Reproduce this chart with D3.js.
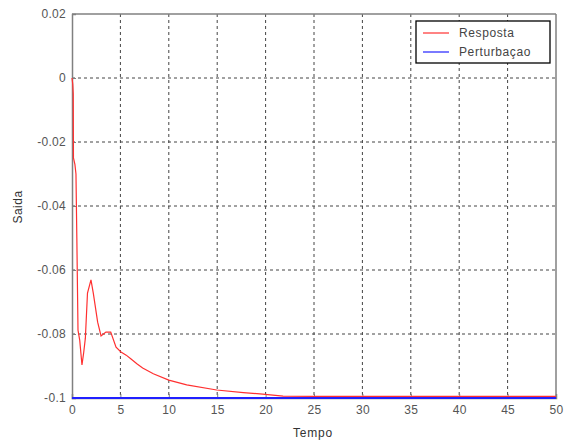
<!DOCTYPE html>
<html><head><meta charset="utf-8">
<script src="https://cdn.jsdelivr.net/npm/d3@7"></script>
<style>body{margin:0;background:#fff}svg{display:block}</style>
</head><body>
<svg id="c" width="564" height="443"></svg>
<script>
const xTicks = [0,5,10,15,20,25,30,35,40,45,50];
const yTicks = [0.02,0,-0.02,-0.04,-0.06,-0.08,-0.1];
const yTickLabels = ["0.02","0","-0.02","-0.04","-0.06","-0.08","-0.1"];
const respTime = [0,0.08,0.13,0.15,0.3,0.41,0.5,0.62,0.8,1.03,1.2,1.38,1.6,1.96,2.2,2.65,3.0,3.5,4.0,4.55,5.06,5.6,6.1,6.7,7.3,8.4,10,11.85,14.95,17.7,19.7,21.8,25,30,35,40,45,50];
const respValue = [0,-0.002,-0.005,-0.025,-0.027,-0.03,-0.05,-0.0788,-0.082,-0.0897,-0.086,-0.0813,-0.0672,-0.0631,-0.0672,-0.0763,-0.0806,-0.0794,-0.0794,-0.0841,-0.0856,-0.0866,-0.0878,-0.0893,-0.0906,-0.0924,-0.0944,-0.0959,-0.0975,-0.0983,-0.0988,-0.0994,-0.0995,-0.0995,-0.0995,-0.0995,-0.0995,-0.0995];
const pertTime = [0,50];
const pertValue = [-0.1,-0.1];
const legendLabels = ["Resposta","Perturbaçao"];
const colors = ["#ff3030","#2020ff"];

const svg = d3.select("#c");
const L=72,R=556,T=14,B=398;
const x = d3.scaleLinear().domain([0,50]).range([L,R]);
const y = d3.scaleLinear().domain([-0.1,0.02]).range([B,T]);
const font = "'Liberation Sans', Arial, sans-serif";

// grid
const g = svg.append("g");
g.selectAll(".vg").data(xTicks.slice(1,-1)).join("line")
  .attr("x1",d=>x(d)).attr("x2",d=>x(d)).attr("y1",T).attr("y2",B)
  .attr("stroke","#444").attr("stroke-width",1).attr("stroke-dasharray","3,3");
g.selectAll(".hg").data(yTicks.slice(1,-1)).join("line")
  .attr("x1",L).attr("x2",R).attr("y1",d=>y(d)).attr("y2",d=>y(d))
  .attr("stroke","#444").attr("stroke-width",1).attr("stroke-dasharray","3,3");

// axes
const xa = svg.append("g").attr("transform",`translate(0,${B})`)
  .call(d3.axisBottom(x).tickValues(xTicks).tickSize(-4).tickPadding(7).tickFormat(d3.format("d")));
const ya = svg.append("g").attr("transform",`translate(${L},0)`)
  .call(d3.axisLeft(y).tickValues(yTicks).tickSize(-4).tickPadding(6).tickFormat((d,i)=>yTickLabels[i]));
[xa,ya].forEach(a=>{
  a.selectAll("path").attr("stroke","#808080").attr("stroke-width",1.5);
  a.selectAll("line").attr("stroke","#808080");
  a.selectAll("text").attr("fill","#555").style("font-family",font).style("font-size","12px").style("letter-spacing","0.3px");
});
// top/right box
svg.append("line").attr("x1",L).attr("x2",R).attr("y1",T).attr("y2",T).attr("stroke","#808080").attr("stroke-width",1.5);
svg.append("line").attr("x1",R).attr("x2",R).attr("y1",T).attr("y2",B).attr("stroke","#808080").attr("stroke-width",1.5);

// data lines
const line = d3.line().x(d=>x(d[0])).y(d=>y(d[1]));
svg.append("path").datum(pertTime.map((t,i)=>[t,pertValue[i]]))
  .attr("d",line).attr("fill","none").attr("stroke",colors[1]).attr("stroke-width",2);
svg.append("path").datum(respTime.map((t,i)=>[t,respValue[i]]))
  .attr("d",line).attr("fill","none").attr("stroke",colors[0]).attr("stroke-width",1.2);

// labels
svg.append("text").attr("x",313).attr("y",437).attr("text-anchor","middle")
  .attr("fill","#333").style("font-family",font).style("font-size","12px").style("letter-spacing","0.8px").text("Tempo");
svg.append("text").attr("transform","translate(22,207) rotate(-90)").attr("text-anchor","middle")
  .attr("fill","#333").style("font-family",font).style("font-size","12px").style("letter-spacing","0.5px").text("Saida");

// legend
const lg = svg.append("g");
lg.append("rect").attr("x",416).attr("y",21).attr("width",134).attr("height",42)
  .attr("fill","#fff").attr("stroke","#000").attr("stroke-width",1.3);
legendLabels.forEach((lab,i)=>{
  const yy = 33 + i*19;
  lg.append("line").attr("x1",423).attr("x2",449).attr("y1",yy).attr("y2",yy).attr("stroke",colors[i]).attr("stroke-width",1.2);
  lg.append("text").attr("x",459).attr("y",yy+4).attr("fill","#444")
    .style("font-family",font).style("font-size","12px").style("letter-spacing","0.6px").text(lab);
});
</script>
</body></html>
